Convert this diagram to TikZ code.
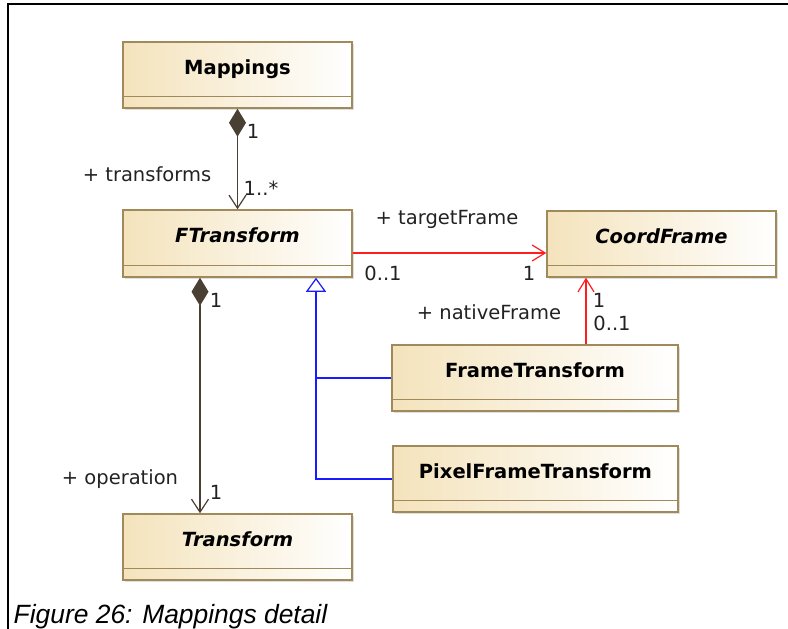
\documentclass[tikz,border=0pt]{standalone}
\usepackage{fontspec}
\setmainfont{DejaVu Sans}
\newfontfamily\capfont{Liberation Sans}
\usetikzlibrary{arrows.meta,shadows}
\definecolor{beige}{HTML}{F4E3BC}
\definecolor{boxline}{HTML}{A08A5C}
\definecolor{assoc}{HTML}{4A3F33}
\definecolor{ured}{HTML}{FF1E1E}
\definecolor{ublue}{HTML}{1A1AFF}
\definecolor{txt}{HTML}{222222}
\begin{document}
\begin{tikzpicture}[x=1pt,y=-1pt,
  cls/.style={draw=boxline, line width=1.5pt, left color=beige, right color=white,
    drop shadow={shadow xshift=2pt,shadow yshift=-2pt,opacity=0.25,fill=gray}, inner sep=0pt},
  ttl/.style={font=\fontsize{19.5}{22}\selectfont\bfseries, text=black, anchor=base, inner sep=0pt},
  ittl/.style={ttl, font=\fontsize{19.5}{22}\selectfont\bfseries\itshape},
  divider/.style={draw=boxline, line width=1.5pt},
  lbl/.style={font=\fontsize{19.5}{22}\selectfont, text=txt, inner sep=0pt, text height=14pt, text depth=4pt},
  assocline/.style={draw=assoc, line width=1.2pt},
  redline/.style={draw=ured, line width=1.2pt},
  genline/.style={draw=ublue, line width=1.2pt},
  comp/.style={{Diamond[length=28pt,width=17pt]}-{Straight Barb[length=13pt,width=17pt]}},
  nav/.style={-{Straight Barb[length=13pt,width=16pt]}},
  gentip/.style={-{Triangle[open,fill=white,length=14pt,width=20pt]}}
]
\useasboundingbox (0,0) rectangle (788,629);
\draw[line width=1.3pt] (8,629) -- (8,4) -- (788,4);

% class boxes
\node[cls, minimum width=229pt, minimum height=66pt] (map) at (237.5,75) {};
\node[cls, minimum width=229pt, minimum height=67pt] (ft) at (237.5,243.5) {};
\node[cls, minimum width=229pt, minimum height=66pt] (cf) at (661.5,244) {};
\node[cls, minimum width=286pt, minimum height=66pt] (frt) at (535,378) {};
\node[cls, minimum width=285pt, minimum height=66pt] (pft) at (535.5,479) {};
\node[cls, minimum width=229pt, minimum height=66pt] (tr) at (237.5,547) {};

\foreach \b in {map,ft,cf,frt,pft,tr}{
  \draw[divider] ([yshift=12.5pt]\b.south west) -- ([yshift=12.5pt]\b.south east);
}

\node[ttl] (tmap) at ([yshift=-33pt]map.north) {Mappings};
\node[ittl] (tft) at ([yshift=-33pt]ft.north) {FTransform};
\node[ittl] (tcf) at ([yshift=-33pt]cf.north) {CoordFrame};
\node[ttl] (tfrt) at ([yshift=-33pt]frt.north) {FrameTransform};
\node[ttl] (tpft) at ([yshift=-33pt]pft.north) {PixelFrameTransform};
\node[ittl] (ttr) at ([yshift=-33pt]tr.north) {Transform};

% connectors
\draw[assocline, comp, fill=assoc] (map.south) -- (ft.north);
\draw[assocline, comp, fill=assoc] ([xshift=-37.5pt]ft.south) -- ([xshift=-37.5pt]tr.north);
\draw[redline, nav] ([yshift=-9.5pt]ft.east) -- ([yshift=-9.5pt]ft.east -| cf.west);
\draw[redline, nav] ([xshift=51pt]frt.north) -- ([xshift=51pt]frt.north |- cf.south);
\coordinate (g) at ([xshift=78.5pt]ft.south);
\draw[genline, gentip] (pft.west) -| (g);
\draw[genline] (frt.west) -- (frt.west -| g);

% labels
\node[lbl] (l1) at (147,176) {+ transforms};
\node[lbl] (l2) at (253,133) {1};
\node[lbl] (l3) at (261,190) {1..*};
\node[lbl] (l4) at (447,219) {+ targetFrame};
\node[lbl] (l5) at (383,275) {0..1};
\node[lbl] (l6) at (529,275) {1};
\node[lbl] (l7) at (489,314) {+ nativeFrame};
\node[lbl] (l8) at (599,302) {1};
\node[lbl] (l9) at (612,325) {0..1};
\node[lbl] (l10) at (216,302) {1};
\node[lbl] (l11) at (120,479) {+ operation};
\node[lbl] (l12) at (216,494) {1};

\node[anchor=base west, inner sep=0pt, font=\capfont\itshape\fontsize{26.4}{30}\selectfont] (cap) at (13.5,623) {Figure 26: Mappings detail};
\end{tikzpicture}
\end{document}
